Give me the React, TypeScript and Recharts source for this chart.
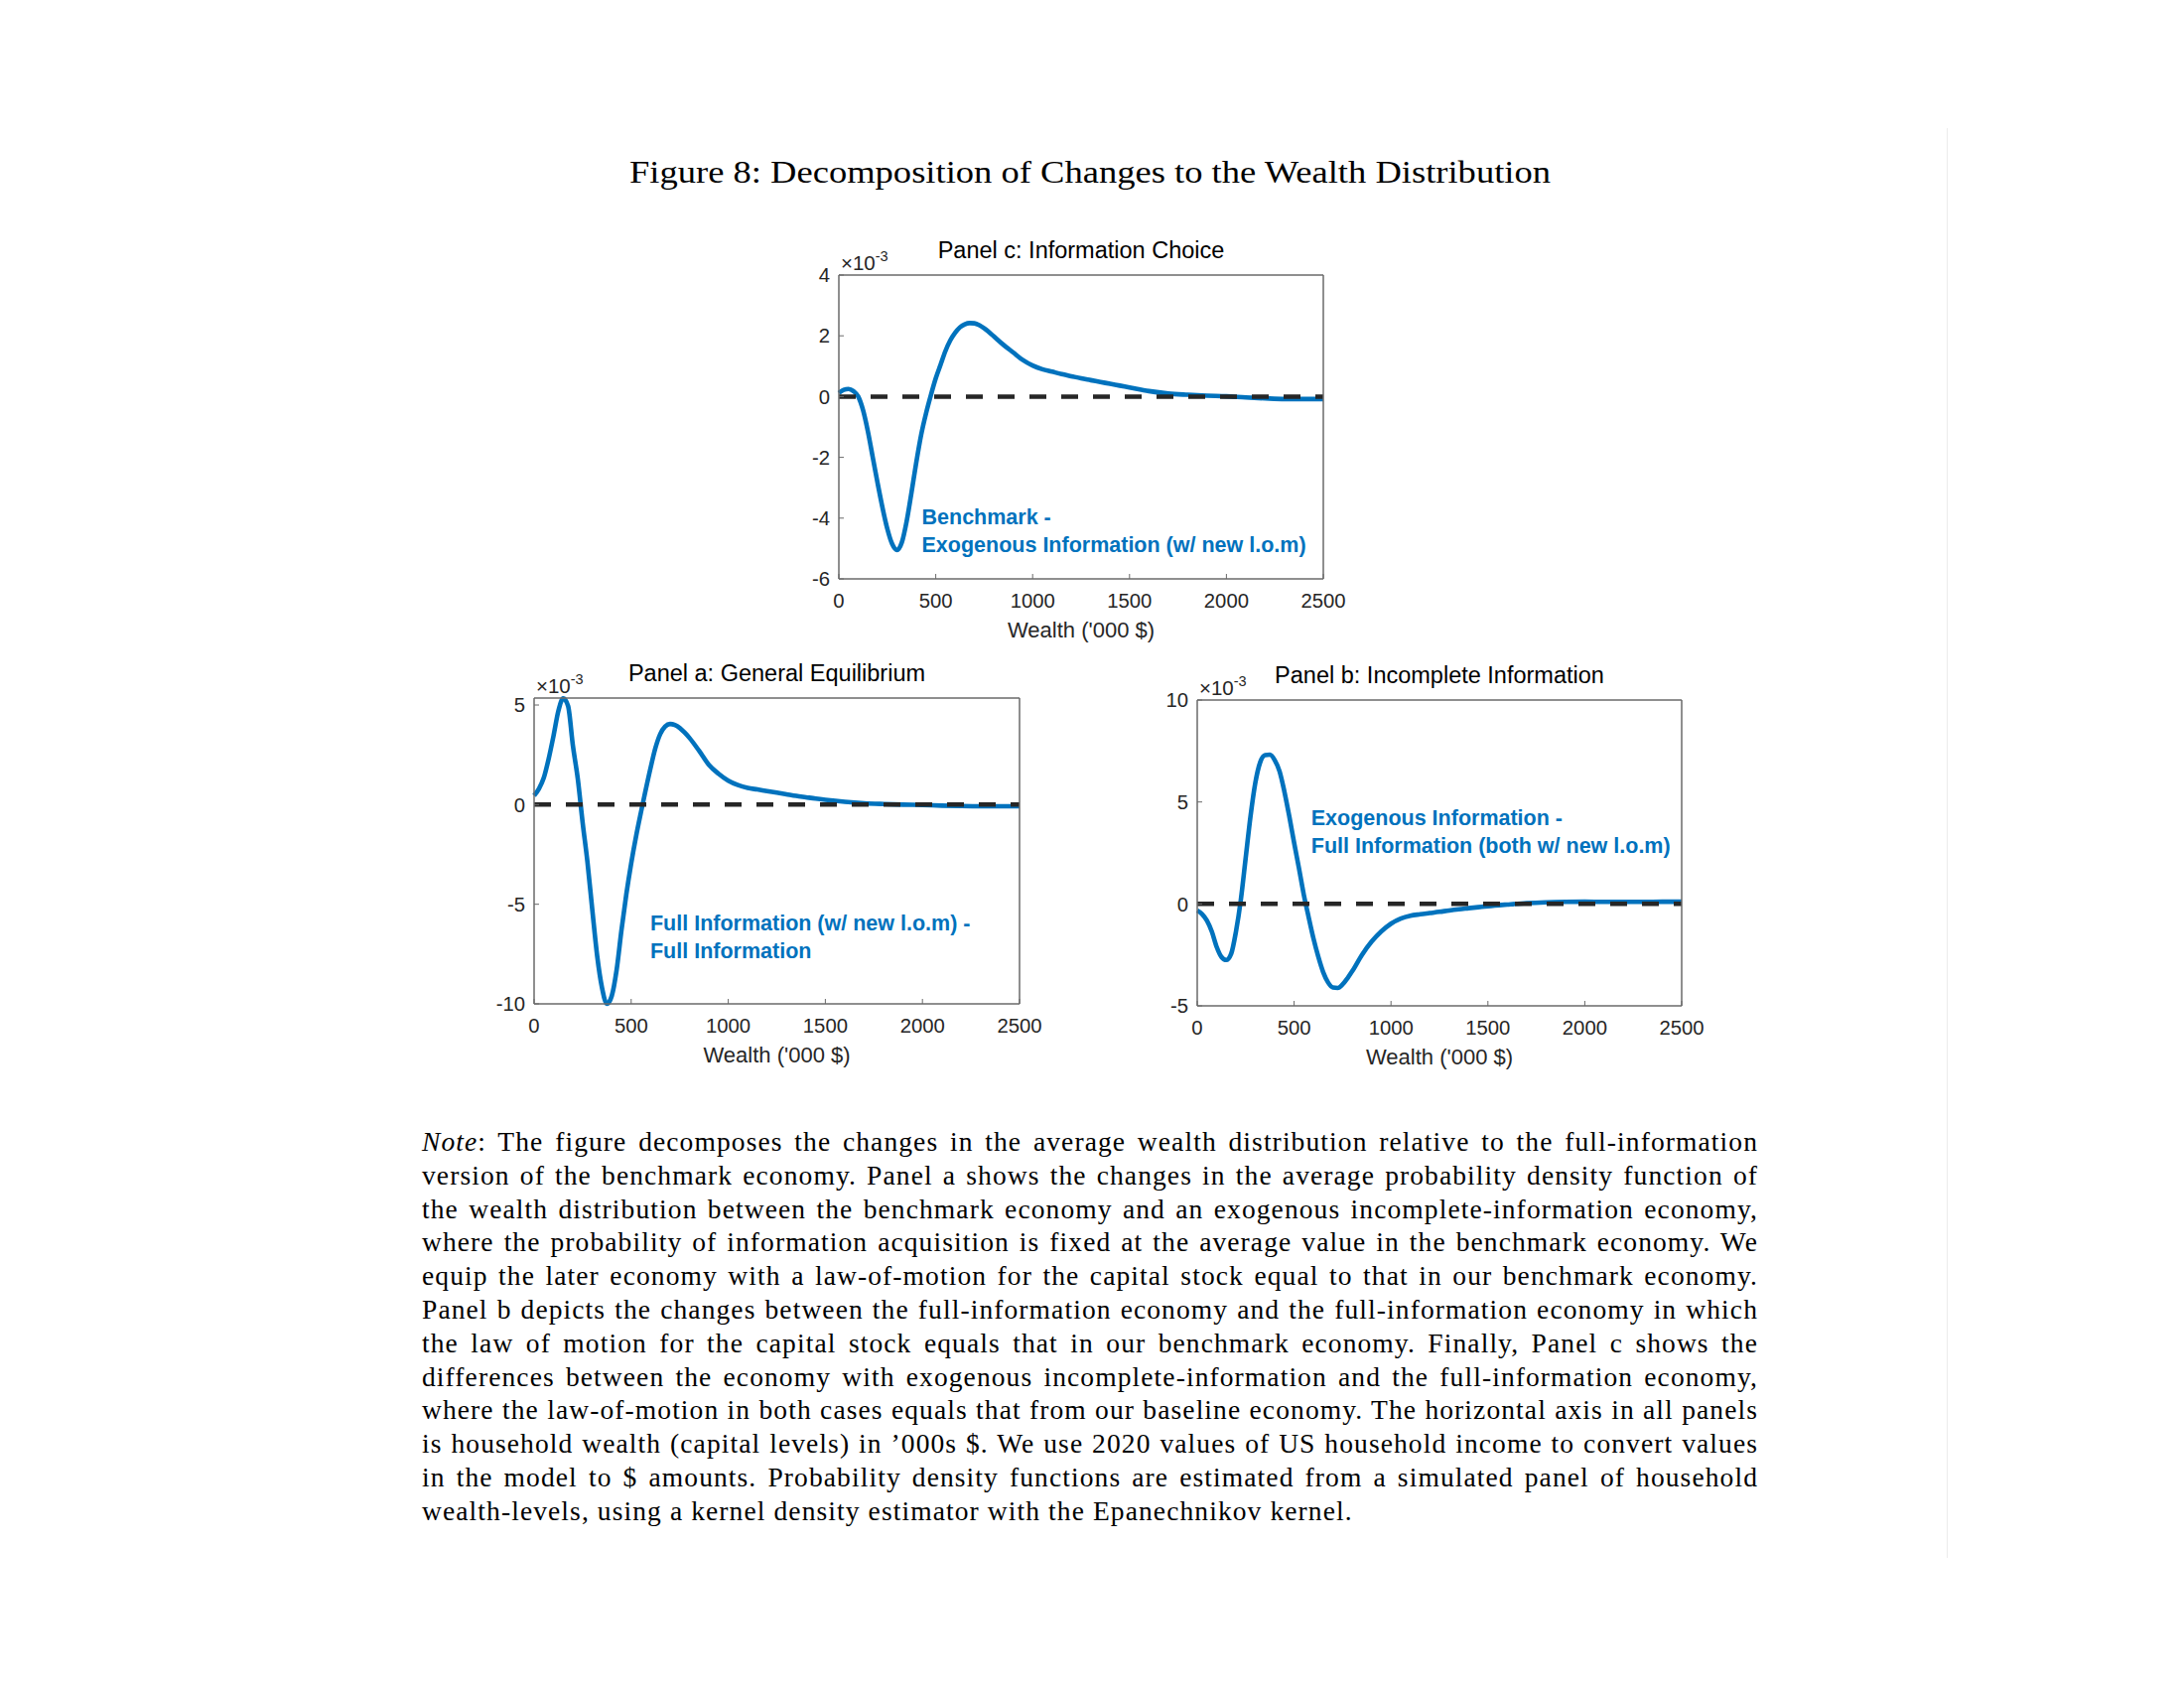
import React from "react";
import { LineChart, Line, XAxis, YAxis, ReferenceLine, ReferenceDot } from "recharts";

// wealth grid ('000 $), shared by all three panels
const wealth = [
  0, 25, 50, 75, 100, 125, 150, 175, 200, 225, 250, 275, 300, 325, 350, 375, 400,
  425, 450, 475, 500, 525, 550, 575, 600, 625, 650, 675, 700, 725, 750, 775, 800,
  850, 900, 950, 1000, 1050, 1100, 1150, 1200, 1250, 1300, 1350, 1400, 1450, 1500,
  1600, 1700, 1800, 1900, 2000, 2100, 2200, 2300, 2400, 2500,
];

// density differences, x 10^-3
const generalEq = [
  0.45, 0.8, 1.35, 2.3, 3.45, 4.7, 5.33, 4.95, 2.95, 1.3, -0.9, -2.9, -5.3, -7.6, -9.2, -10.0, -9.6,
  -8.3, -6.3, -4.5, -2.95, -1.6, -0.4, 0.75, 1.85, 2.85, 3.55, 3.92, 4.05, 4.0, 3.85, 3.62, 3.35,
  2.7, 2.0, 1.55, 1.2, 0.98, 0.84, 0.76, 0.68, 0.6, 0.52, 0.44, 0.37, 0.3, 0.24,
  0.14, 0.07, 0.03, 0.0, -0.02, -0.05, -0.07, -0.08, -0.08, -0.08,
];

const incompleteInfo = [
  -0.33, -0.5, -0.82, -1.35, -2.1, -2.6, -2.75, -2.45, -1.35, 0.2, 2.25, 4.3, 5.95, 6.95, 7.3, 7.32, 7.05,
  6.5, 5.5, 4.3, 3.0, 1.75, 0.45, -0.65, -1.7, -2.6, -3.35, -3.85, -4.1, -4.12, -3.95, -3.65, -3.3,
  -2.5, -1.85, -1.35, -0.97, -0.72, -0.58, -0.51, -0.45, -0.39, -0.32, -0.26, -0.21, -0.16, -0.11,
  -0.03, 0.04, 0.08, 0.1, 0.11, 0.1, 0.1, 0.1, 0.11, 0.11,
];

const infoChoice = [
  0.12, 0.22, 0.25, 0.18, 0.0, -0.45, -1.15, -2.0, -2.85, -3.65, -4.35, -4.85, -5.05, -4.8, -4.1, -3.15, -2.15,
  -1.25, -0.55, 0.05, 0.6, 1.05, 1.5, 1.85, 2.1, 2.28, 2.38, 2.42, 2.41, 2.35, 2.25, 2.12, 1.98,
  1.7, 1.45, 1.2, 1.02, 0.9, 0.82, 0.74, 0.67, 0.6, 0.54, 0.48, 0.42, 0.36, 0.3,
  0.18, 0.1, 0.06, 0.03, 0.01, -0.03, -0.06, -0.08, -0.08, -0.08,
];

const xTicks = [0, 500, 1000, 1500, 2000, 2500];
const aTicks = [-10, -5, 0, 5];
const bTicks = [-5, 0, 5, 10];
const cTicks = [-6, -4, -2, 0, 2, 4];

const noteLines = [
  "version of the benchmark economy. Panel a shows the changes in the average probability density function of",
  "the wealth distribution between the benchmark economy and an exogenous incomplete-information economy,",
  "where the probability of information acquisition is fixed at the average value in the benchmark economy. We",
  "equip the later economy with a law-of-motion for the capital stock equal to that in our benchmark economy.",
  "Panel b depicts the changes between the full-information economy and the full-information economy in which",
  "the law of motion for the capital stock equals that in our benchmark economy. Finally, Panel c shows the",
  "differences between the economy with exogenous incomplete-information and the full-information economy,",
  "where the law-of-motion in both cases equals that from our baseline economy. The horizontal axis in all panels",
  "is household wealth (capital levels) in \u2019000s $. We use 2020 values of US household income to convert values",
  "in the model to $ amounts. Probability density functions are estimated from a simulated panel of household",
];

const BLUE = "#0072BD";
const INK = "#262626";
const FRAME = "#6a6a6a";
const SANS = '"Liberation Sans", Arial, Helvetica, sans-serif';
const SERIF = '"Liberation Serif", "Times New Roman", serif';

type Box = { x: number; y: number; w: number; h: number };

function Panel(props: {
  title: string;
  values: number[];
  yDomain: [number, number];
  yTicks: number[];
  label: string[];
  labelAt: [number, number];
  box: Box;
}) {
  const { title, values, yDomain, yTicks, label, labelAt, box } = props;
  const rows = wealth.map((w, i) => ({ w, v: values[i] }));
  const tickFont = { fill: INK, fontSize: 20.3 };
  const frame = { stroke: FRAME, strokeWidth: 1.5 };

  const noteContent = (p: any) => {
    const vb = p.viewBox || {};
    return (
      <text x={vb.x} y={vb.y} fill={BLUE} fontSize={21.5} fontWeight="bold" dominantBaseline="central">
        {label.map((s, i) => (
          <tspan key={i} x={vb.x} dy={i === 0 ? 0 : 27.5}>
            {s}
          </tspan>
        ))}
      </text>
    );
  };

  return (
    <>
      <div
        style={{
          position: "absolute", left: box.x, top: box.y - 40, width: box.w,
          textAlign: "center", fontSize: 23.5, lineHeight: "30px", color: "#000",
        }}
      >
        {title}
      </div>
      <div style={{ position: "absolute", left: box.x + 2, top: box.y - 24, fontSize: 20.5, lineHeight: "24px", color: INK }}>
        ×10
        <span style={{ fontSize: 14.5, position: "relative", top: -9 }}>-3</span>
      </div>
      <div style={{ position: "absolute", left: box.x - 100, top: box.y - 77 }}>
        <LineChart
          width={box.w + 172}
          height={box.h + 164}
          data={rows}
          margin={{ top: 76, right: 71, bottom: 17, left: 30 }}
        >
          <XAxis
            xAxisId="b" dataKey="w" type="number" domain={[0, 2500]} ticks={xTicks} interval={0}
            orientation="bottom" height={70} tickSize={-5} tickMargin={20} tick={tickFont}
            stroke={FRAME} axisLine={frame}
            label={{ value: "Wealth ('000 $)", position: "insideBottom", offset: 11, fill: INK, fontSize: 22 }}
          />
          <XAxis
            xAxisId="t" dataKey="w" type="number" domain={[0, 2500]} ticks={xTicks} interval={0}
            orientation="top" height={1} tickSize={-5} tick={false}
            stroke={FRAME} axisLine={frame}
          />
          <YAxis
            yAxisId="l" type="number" domain={yDomain} ticks={yTicks} interval={0}
            orientation="left" width={70} tickSize={-5} tickMargin={14} tick={tickFont}
            stroke={FRAME} axisLine={frame}
          />
          <YAxis
            yAxisId="r" type="number" domain={yDomain} ticks={yTicks} interval={0}
            orientation="right" width={1} tickSize={-5} tick={false}
            stroke={FRAME} axisLine={frame}
          />
          <Line
            xAxisId="b" yAxisId="l" type="monotone" dataKey="v" stroke={BLUE} strokeWidth={4.6}
            dot={false} activeDot={false} isAnimationActive={false}
          />
          <ReferenceLine xAxisId="b" yAxisId="l" y={0} stroke={INK} strokeWidth={4.5} strokeDasharray="17 15" />
          <ReferenceDot
            xAxisId="b" yAxisId="l" x={labelAt[0]} y={labelAt[1]} r={0}
            fill="none" stroke="none" label={{ content: noteContent }}
          />
        </LineChart>
      </div>
    </>
  );
}

const justified = { textAlign: "justify" as const, textAlignLast: "justify" as const, wordSpacing: -4 };

export default function App() {
  return (
    <div
      style={{
        position: "absolute", left: 0, top: 0, width: 2200, height: 1700,
        background: "#fff", fontFamily: SANS, overflow: "hidden",
      }}
    >
      <div style={{ position: "absolute", left: 1961, top: 129, width: 1, height: 1440, background: "#ececec" }} />
      <svg style={{ position: "absolute", left: 0, top: 0 }} width={2200} height={220}>
        <text
          x={1098} y={184} textAnchor="middle" textLength={928} lengthAdjust="spacingAndGlyphs"
          fontFamily={SERIF} fontSize={31} fill="#000"
        >
          Figure 8: Decomposition of Changes to the Wealth Distribution
        </text>
      </svg>

      <Panel
        title="Panel c: Information Choice"
        values={infoChoice}
        yDomain={[-6, 4]}
        yTicks={cTicks}
        label={["Benchmark -", "Exogenous Information (w/ new l.o.m)"]}
        labelAt={[428, -3.99]}
        box={{ x: 845, y: 277, w: 488, h: 306 }}
      />
      <Panel
        title="Panel a: General Equilibrium"
        values={generalEq}
        yDomain={[-10, 5.35]}
        yTicks={aTicks}
        label={["Full Information (w/ new l.o.m) -", "Full Information"]}
        labelAt={[598, -5.98]}
        box={{ x: 538, y: 703, w: 489, h: 308 }}
      />
      <Panel
        title="Panel b: Incomplete Information"
        values={incompleteInfo}
        yDomain={[-5, 10]}
        yTicks={bTicks}
        label={["Exogenous Information -", "Full Information (both w/ new l.o.m)"]}
        labelAt={[588, 4.2]}
        box={{ x: 1206, y: 705, w: 488, h: 308 }}
      />

      <div
        style={{
          position: "absolute", left: 425, top: 1133, width: 1346,
          fontFamily: SERIF, fontSize: 27.5, lineHeight: "33.8px", letterSpacing: 1.1, color: "#000",
        }}
      >
        <div style={justified}>
          <i>Note</i>: The figure decomposes the changes in the average wealth distribution relative to the full-information
        </div>
        {noteLines.map((s, i) => (
          <div key={i} style={justified}>
            {s}
          </div>
        ))}
        <div>wealth-levels, using a kernel density estimator with the Epanechnikov kernel.</div>
      </div>
    </div>
  );
}
